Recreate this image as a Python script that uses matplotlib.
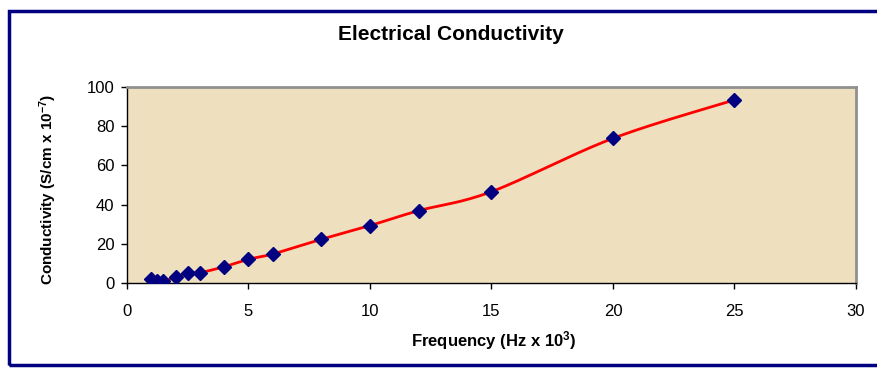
import matplotlib
matplotlib.use('Agg')
import matplotlib.pyplot as plt
from matplotlib.patches import Rectangle
import numpy as np

plt.rcParams['font.family'] = ['Liberation Sans', 'DejaVu Sans']
plt.rcParams['mathtext.fontset'] = 'custom'
plt.rcParams['mathtext.rm'] = 'Liberation Sans'
plt.rcParams['mathtext.bf'] = 'Liberation Sans:bold'

# data
freq = [1, 1.25, 1.5, 2, 2.5, 3, 4, 5, 6, 8, 10, 12, 15, 20, 25]
cond = [1.9, 1.0, 1.0, 2.9, 5.3, 5.3, 8.3, 12.1, 14.8, 22.3, 29.3, 36.9, 46.6, 73.8, 93.4]
x_ticks = [0, 5, 10, 15, 20, 25, 30]
y_ticks = [0, 20, 40, 60, 80, 100]


def smooth(xs, ys, n=30):
    # Excel-like smoothed line: cubic bezier with catmull-rom control points
    p = np.column_stack([xs, ys]).astype(float)
    p = np.vstack([p[0], p, p[-1]])
    out = []
    t = np.linspace(0, 1, n)[:, None]
    for i in range(1, len(p) - 2):
        p0, p1, p2, p3 = p[i - 1], p[i], p[i + 1], p[i + 2]
        c1 = p1 + (p2 - p0) / 6
        c2 = p2 - (p3 - p1) / 6
        seg = ((1 - t) ** 3) * p1 + 3 * ((1 - t) ** 2) * t * c1 + 3 * (1 - t) * t ** 2 * c2 + t ** 3 * p2
        out.append(seg)
    out = np.vstack(out)
    return out[:, 0], out[:, 1]


fig = plt.figure(figsize=(8.78, 3.69), dpi=100)
fig.patch.set_facecolor('white')

# navy chart frame
fig.patches.append(Rectangle((9 / 878, 4 / 369), 900 / 878, 354 / 369, transform=fig.transFigure,
                             fill=False, edgecolor='#000080', linewidth=2.5))

ax = fig.add_axes([127 / 878, 86 / 369, 729 / 878, 196 / 369])
ax.set_facecolor('#EEDFBF')

sx, sy = smooth(freq, cond)
ax.plot(sx, sy, color='#FF0000', linewidth=2, zorder=2)
ax.plot(freq, cond, linestyle='none', marker='D', markersize=7, color='#000080', zorder=3)

ax.set_xlim(0, 30)
ax.set_ylim(0, 100)
ax.set_xticks(x_ticks)
ax.set_yticks(y_ticks)
ax.tick_params(axis='both', direction='out', length=4, width=1, labelsize=12, colors='black')
ax.tick_params(axis='x', pad=11)
ax.tick_params(axis='y', pad=5)

for s in ['left', 'bottom']:
    ax.spines[s].set_color('black')
    ax.spines[s].set_linewidth(1)
for s in ['top', 'right']:
    ax.spines[s].set_color('#909090')
    ax.spines[s].set_linewidth(2)

fig.text(494 / 878, 1 - 341 / 369, r'Frequency (Hz x 10$\mathbf{^3}$)', ha='center', va='center',
         fontsize=12, fontweight='bold')
fig.text(48 / 878, 1 - 189 / 369, r'Conductivity (S/cm x 10$\mathbf{^{-7}}$)', ha='center', va='center',
         rotation=90, fontsize=11, fontweight='bold')
fig.text(451 / 878, 1 - 35 / 369, 'Electrical Conductivity', ha='center', va='center',
         fontsize=15, fontweight='bold')

fig.savefig('out.png', dpi=100)
